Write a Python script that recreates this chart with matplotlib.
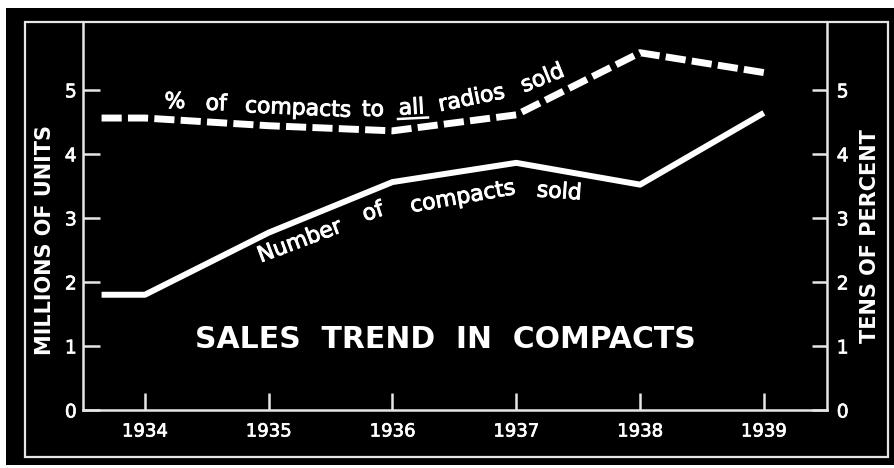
import matplotlib
matplotlib.use('Agg')
import matplotlib.pyplot as plt
import matplotlib.patheffects as pe
from matplotlib.patches import Rectangle
from matplotlib.lines import Line2D

# ---- data ----
years = [1933.65, 1934, 1935, 1936, 1937, 1938, 1939]
units_millions = [1.80, 1.80, 2.77, 3.56, 3.86, 3.52, 4.64]
pct_tens = [4.56, 4.56, 4.44, 4.36, 4.61, 5.58, 5.27]
xticks = [1934, 1935, 1936, 1937, 1938, 1939]
xtick_labels = ['1934', '1935', '1936', '1937', '1938', '1939']
yticks = [0, 1, 2, 3, 4, 5]
ytick_labels = ['0', '1', '2', '3', '4', '5']

W, H = 895, 468
def fx(px):
    return px / W
def fy(py):
    return 1 - py / H

thick_tick = [pe.withStroke(linewidth=0.5, foreground='white')]
thick_word = [pe.withStroke(linewidth=0.7, foreground='white')]

fig = plt.figure(figsize=(W / 100, H / 100), dpi=100, facecolor='white')

# black board
fig.add_artist(Rectangle((fx(6), fy(465)), (W - 6) / W, (465 - 8) / H,
                         transform=fig.transFigure, facecolor='black',
                         edgecolor='none', zorder=-10))
# outer frame
fig.add_artist(Rectangle((fx(25), fy(457)), (888 - 25) / W, (457 - 22) / H,
                         transform=fig.transFigure, fill=False,
                         edgecolor='#e6e6e6', lw=1.6, zorder=5))

ax = fig.add_axes([fx(83), fy(410), (827 - 83) / W, (410 - 22) / H])
ax.set_facecolor('black')
ax.set_xlim(1933.5, 1939.51)
ax.set_ylim(0, 6.06)
ax.plot(years, units_millions, color='white', lw=4.3,
        solid_joinstyle='round', solid_capstyle='butt', zorder=3)

ax2 = ax.twinx()
ax2.set_ylim(0, 6.06)
ax2.plot(years, pct_tens, color='white', lw=5, linestyle=(0, (2.9, 0.9)),
         dash_capstyle='butt', dash_joinstyle='round', zorder=3)

for s in ['top', 'right']:
    ax.spines[s].set_visible(False)
for s in ['left', 'bottom']:
    ax.spines[s].set_color('#e6e6e6')
    ax.spines[s].set_linewidth(1.8)
for s in ['top', 'left', 'bottom']:
    ax2.spines[s].set_visible(False)
ax2.spines['right'].set_color('#e6e6e6')
ax2.spines['right'].set_linewidth(1.8)

ax.set_xticks(xticks)
ax.set_xticklabels(xtick_labels)
ax.set_yticks(yticks)
ax.set_yticklabels(ytick_labels)
ax2.set_yticks(yticks)
ax2.set_yticklabels(ytick_labels)

ax.tick_params(axis='x', direction='in', length=12, width=1.8,
               color='#e6e6e6', labelcolor='white', labelsize=13, pad=9)
ax.tick_params(axis='y', direction='in', length=12, width=1.8,
               color='#e6e6e6', labelcolor='white', labelsize=13.5, pad=4.5)
ax2.tick_params(axis='y', direction='in', length=11, width=1.8,
                color='#e6e6e6', labelcolor='white', labelsize=13.5, pad=7)
for lab in ax.get_xticklabels() + ax.get_yticklabels() + ax2.get_yticklabels():
    lab.set_path_effects(thick_tick)

# axis titles
fig.text(fx(45), fy(240), 'MILLIONS OF UNITS', rotation=90, ha='center',
         va='center', fontsize=15, fontweight='bold', color='white')
fig.text(fx(870), fy(236), 'TENS OF PERCENT', rotation=90, ha='center',
         va='center', fontsize=15, fontweight='bold', color='white')

# chart title
fig.text(fx(445), fy(339), 'SALES  TREND  IN  COMPACTS', ha='center',
         va='center', fontsize=21.5, fontweight='bold', color='white')

def word(s, px, py, rot, size=15.8):
    t = fig.text(fx(px), fy(py), s, rotation=rot, rotation_mode='anchor',
                 ha='center', va='baseline', fontsize=size, color='white')
    t.set_path_effects(thick_word)

# dashed-line label
word('%', 175, 108, 0)
word('of', 216, 110, -2)
word('compacts', 298, 114.5, -2.6)
word('to', 373, 116, 0)
word('all', 412, 114, 3)
fig.add_artist(Line2D([fx(398), fx(428)], [fy(119), fy(117.5)],
                      color='white', lw=1.8))
word('radios', 473, 104.5, 11.5)
word('sold', 545, 84, 22)

# solid-line label
word('Number', 302, 247, 20.6)
word('of', 375, 218, 18)
word('compacts', 464, 203, 10)
word('sold', 559, 198, -4)

fig.savefig('out.png', dpi=100, facecolor=fig.get_facecolor())
